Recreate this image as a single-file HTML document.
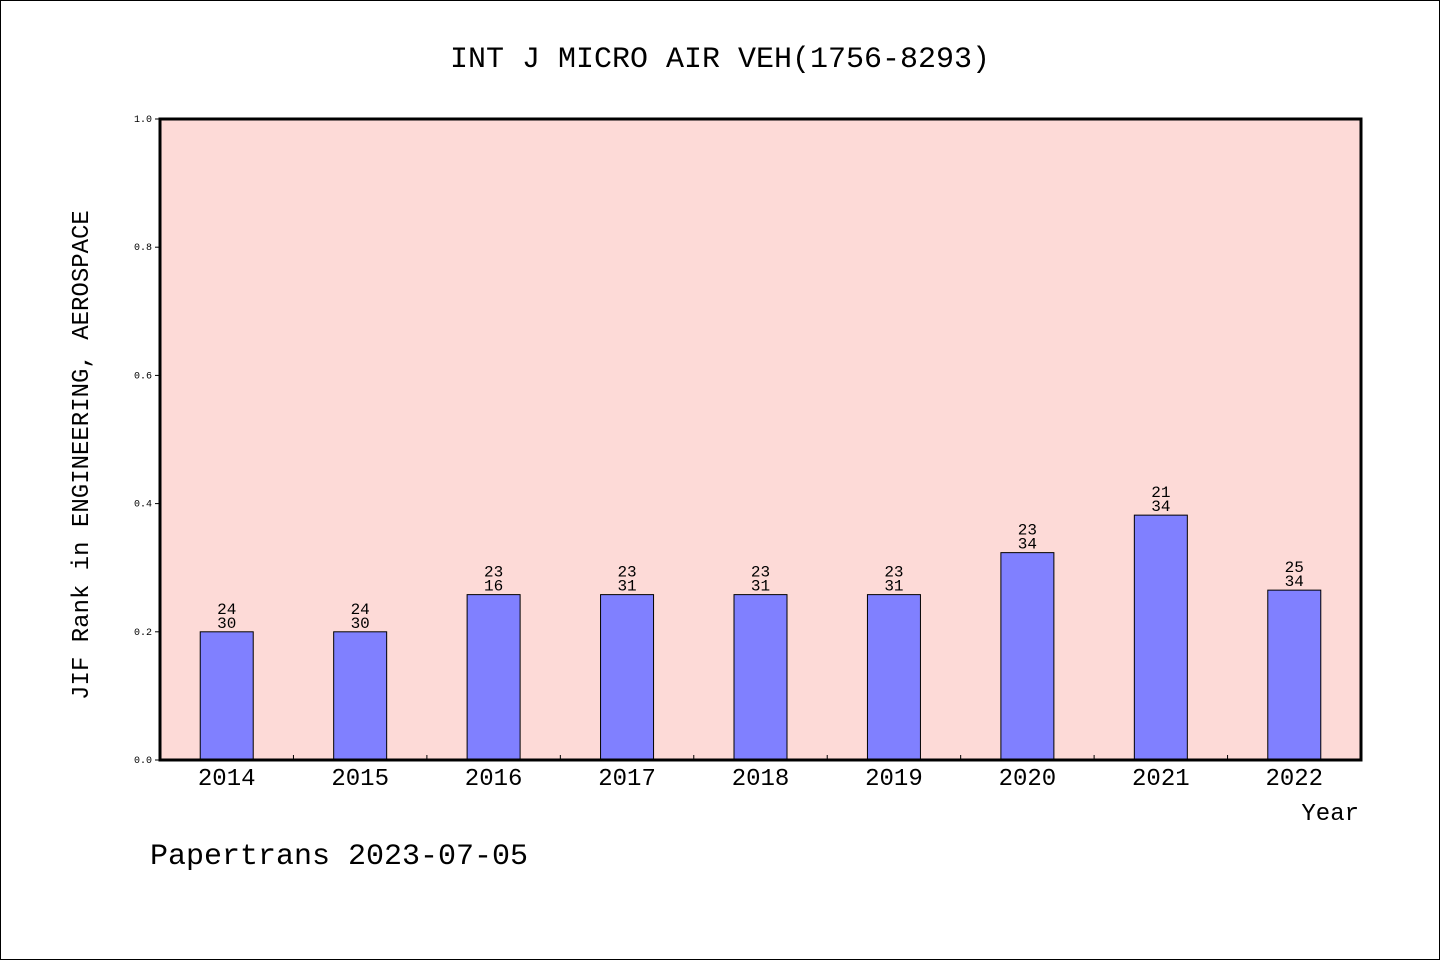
<!DOCTYPE html>
<html><head><meta charset="utf-8"><style>
html,body{margin:0;padding:0;background:#fff}
svg{display:block}
text{font-family:"WenQuanYi Zen Hei","Liberation Mono",monospace;fill:#000}
</style></head><body>
<svg width="1440" height="960">
<rect x="0.5" y="0.5" width="1439" height="959" fill="#fff" stroke="#000"/>
<text x="720" y="67" font-size="30" text-anchor="middle">INT J MICRO AIR VEH(1756-8293)</text>
<rect x="160" y="119" width="1201" height="641" fill="#fddad7"/>
<g id="bars"></g>
<rect x="160" y="119" width="1201" height="641" fill="none" stroke="#000" stroke-width="3"/>
<text x="88" y="455" font-size="24" text-anchor="middle" transform="rotate(-90 88 455)">JIF Rank in ENGINEERING, AEROSPACE</text>
<text x="1359" y="820" font-size="24" text-anchor="end">Year</text>
<text x="150" y="864" font-size="30">Papertrans 2023-07-05</text>
</svg>
<script>
const years=["2014","2015","2016","2017","2018","2019","2020","2021","2022"];
const values=[0.2,0.2,0.258,0.258,0.258,0.258,0.3235,0.382,0.265];
const ranks=["24","24","23","23","23","23","23","21","25"];
const totals=["30","30","16","31","31","31","34","34","34"];
const yTicks=[0,0.2,0.4,0.6,0.8,1.0];
const ns="http://www.w3.org/2000/svg";
const X0=160,W=1201,Y0=760,H=641;
const step=W/years.length;
const xc=i=>X0+step*(i+0.5);
const y=v=>Y0-v*H;
const g=document.getElementById('bars');
const svg=document.querySelector('svg');
function mk(t,a,p){const e=document.createElementNS(ns,t);for(const k in a)e.setAttribute(k,a[k]);(p||g).appendChild(e);return e;}
years.forEach((yr,i)=>{
 const b=mk('rect',{x:xc(i)-26.5,y:y(values[i]),width:53,height:Y0-y(values[i]),fill:'#8080ff',stroke:'#000','stroke-width':1});
 
 
 const t1=mk('text',{x:xc(i),y:y(values[i])-18,'font-size':16,'text-anchor':'middle'});t1.textContent=ranks[i];
 
 
 const t2=mk('text',{x:xc(i),y:y(values[i])-4,'font-size':16,'text-anchor':'middle'});t2.textContent=totals[i];
 
 
 const xl=mk('text',{x:xc(i),y:785,'font-size':24,'text-anchor':'middle'},svg);xl.textContent=yr;
 
 
 if(i>0){const tk=mk('line',{x1:X0+step*i,x2:X0+step*i,y1:Y0,y2:Y0-5,stroke:'#000'},svg);
 
 }
});
yTicks.forEach(v=>{
 const tk=mk('line',{x1:X0-5,x2:X0,y1:y(v),y2:y(v),stroke:'#000'},svg);
 
 
 const tl=mk('text',{x:X0-8,y:y(v)+3,'font-size':10,'text-anchor':'end'},svg);tl.textContent=v.toFixed(1);
 
 
});
</script>
</body></html>
